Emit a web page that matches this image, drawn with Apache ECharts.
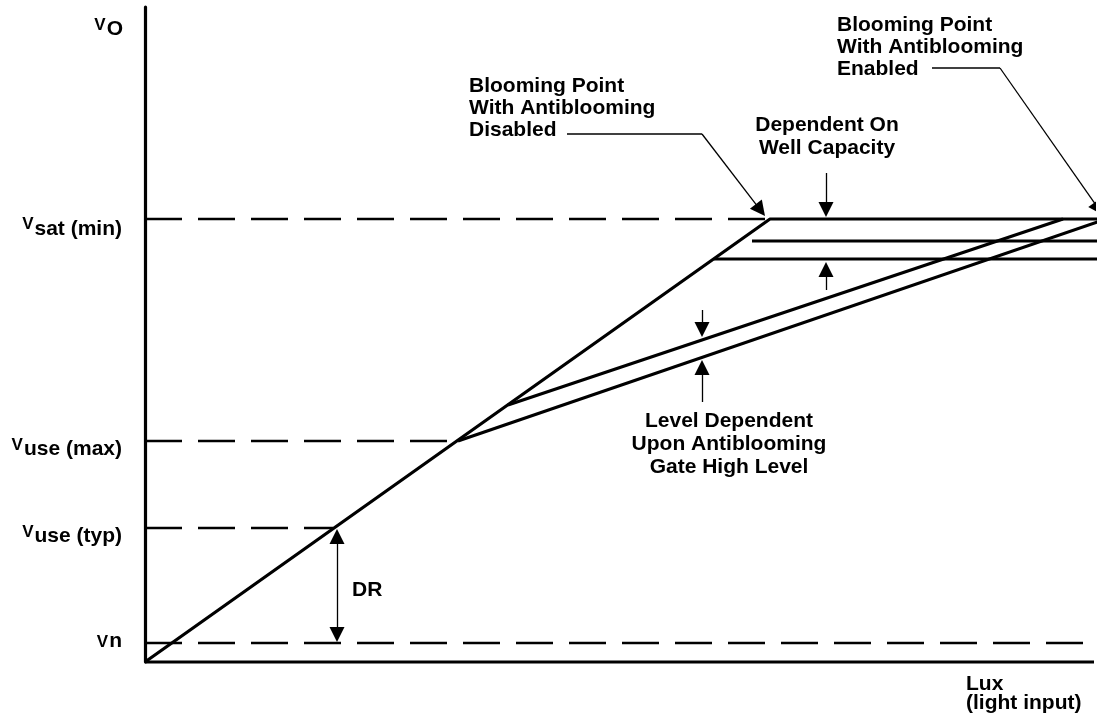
<!DOCTYPE html>
<html>
<head>
<meta charset="utf-8">
<script src="https://cdn.jsdelivr.net/npm/echarts@6/dist/echarts.min.js"></script>
<style>
html,body{margin:0;padding:0;background:#fff;}
#chart{width:1106px;height:721px;}
</style>
</head>
<body>
<div id="chart"></div>
<script>
// ---- Data (picture units: x = light input, y = output voltage) ----
const xMax = 949;          // end of the Lux axis
const yMax = 655;          // top of the VO axis
const xEdge = 961;         // curves run on to the right edge

// reference levels on the VO axis
const levelSubs   = ['sat (min)', 'use (max)', 'use (typ)', 'n'];
const levelValues = [443, 221, 134, 19];
const levelDashTo = [625, 313, 188, 949];   // where each dashed level line stops

// response curves
const responseNoAB   = [[0, 0], [625, 443], [xEdge, 443]];   // antiblooming disabled
const wellCapMid     = [[607, 421], [xEdge, 421]];
const wellCapLow     = [[569, 403], [xEdge, 403]];
const abUpper        = [[363, 257], [918, 443]];              // antiblooming enabled, upper gate level
const abLower        = [[313, 221], [xEdge, 443]];            // antiblooming enabled, lower gate level

// annotation leaders and arrows [from, tip]
const leaderEnabled  = [[787, 594], [855, 594]];
const leaderDisabled = [[422, 528], [557, 528]];
const arrows = [
  [[855, 594], [958, 447]],   // blooming point enabled
  [[557, 528], [620, 446]],   // blooming point disabled
  [[681, 489], [681, 445]],   // well capacity, down
  [[681, 372], [681, 400]],   // well capacity, up
  [[557, 352], [557, 325]],   // level dependent, down
  [[557, 260], [557, 302]],   // level dependent, up
  [[192, 77],  [192, 133]],   // DR, up
  [[192, 77],  [192, 20]]     // DR, down
];

const FONT = '"Liberation Sans", Arial, Helvetica, sans-serif';
const AH = 15; // arrowhead length

function shiftTip(a) {
  const dx = a[1][0] - a[0][0], dy = a[1][1] - a[0][1];
  const len = Math.sqrt(dx * dx + dy * dy);
  const k = (AH / 2) / len;
  return [a[0], [a[1][0] - dx * k, a[1][1] - dy * k]];
}

const chart = echarts.init(document.getElementById('chart'), null, {renderer: 'canvas'});

const solid = (data, w) => ({
  type: 'line', data: data, showSymbol: false, symbol: 'none', clip: false, silent: true,
  lineStyle: {color: '#000', width: w}, animation: false
});
const dashed = (data) => ({
  type: 'line', data: data, showSymbol: false, symbol: 'none', clip: false, silent: true,
  lineStyle: {color: '#000', width: 2.5, type: [37, 16]}, animation: false
});

const series = [];
levelValues.forEach((v, i) => series.push(dashed([[0, v], [levelDashTo[i], v]])));
series.push(solid(responseNoAB, 3.2));
series.push(solid(wellCapMid, 3.2));
series.push(solid(wellCapLow, 3.2));
series.push(solid(abUpper, 3.2));
series.push(solid(abLower, 3.2));
series.push(solid([[0, 0], [xMax, 0]], 3.2));
series.push(solid(leaderEnabled, 1.3));
series.push(solid(leaderDisabled, 1.3));
series.push({
  type: 'lines', coordinateSystem: 'cartesian2d', silent: true, animation: false,
  symbol: ['none', 'triangle'], symbolSize: [15, AH],
  lineStyle: {color: '#000', width: 1.3, opacity: 1, curveness: 0},
  itemStyle: {color: '#000'},
  data: arrows.map(a => ({coords: shiftTip(a)}))
});

chart.setOption({
  backgroundColor: '#fff',
  animation: false,
  grid: {left: 145, top: 7, width: xMax, height: yMax, containLabel: false},
  xAxis: {type: 'value', min: 0, max: xMax, axisLine: {show: false},
          axisTick: {show: false}, axisLabel: {show: false}, splitLine: {show: false}},
  yAxis: {type: 'value', min: 0, max: yMax,
          axisLine: {show: true, onZero: false, lineStyle: {color: '#000', width: 3.2}},
          axisTick: {show: false}, axisLabel: {show: false}, splitLine: {show: false}},
  series: series
});

// ---- text ----
const ctx = document.createElement('canvas').getContext('2d');
function textW(t, size) { ctx.font = 'bold ' + size + 'px ' + FONT; return ctx.measureText(t).width; }

const graphics = [];
function txt(x, y, text, opts) {
  graphics.push(Object.assign({
    type: 'text', x: x, y: y, silent: true,
    style: Object.assign({text: text, fill: '#000', font: 'bold 21px ' + FONT,
                          align: 'left', verticalAlign: 'middle'}, opts || {})
  }));
}

// axis level labels: V + subscript, right-aligned to the axis
const labelRight = 122;
const subOffsets = [10, 8, 8, -2];
const vOffsets = [5, 4, 4, -1];
function vLabel(py, sub, vOff, sOff, right) {
  const w = textW(sub, 21);
  txt(right, py + sOff, sub, {align: 'right'});
  txt(right - w - 1, py + vOff, 'V', {align: 'right', font: 'bold 17px ' + FONT});
}
levelValues.forEach((v, i) => {
  const py = chart.convertToPixel({gridIndex: 0}, [0, v])[1];
  vLabel(py, levelSubs[i], vOffsets[i], subOffsets[i], labelRight);
});
const pyTop = chart.convertToPixel({gridIndex: 0}, [0, yMax])[1];
vLabel(pyTop, 'O', 18, 22, 123);

function block(x, top, lines, lh, align) {
  lines.forEach((l, i) => txt(x, top + lh * i + lh / 2, l, {align: align}));
}
block(837, 14, ['Blooming Point', 'With Antiblooming', 'Enabled'], 22, 'left');
block(469, 75, ['Blooming Point', 'With Antiblooming', 'Disabled'], 22, 'left');
block(827, 113.5, ['Dependent On', 'Well Capacity'], 23, 'center');
block(729, 409.5, ['Level Dependent', 'Upon Antiblooming', 'Gate High Level'], 23, 'center');
txt(352, 590, 'DR');
block(966, 675, ['Lux', '(light input)'], 19, 'left');

chart.setOption({graphic: {elements: graphics}});
</script>
</body>
</html>
